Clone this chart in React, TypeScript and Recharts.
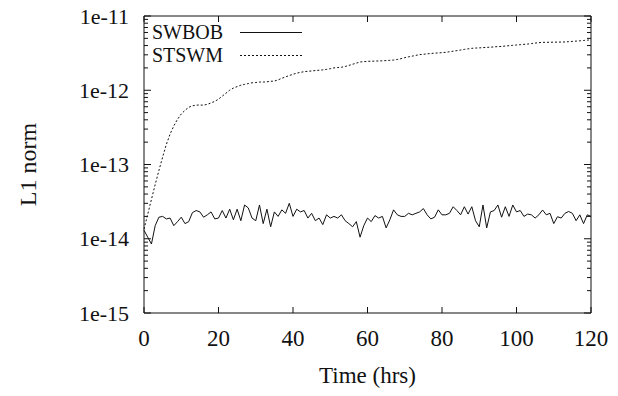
import React from 'react'
import { LineChart, Line, XAxis, YAxis } from 'recharts'

// L1 norm, sampled once per hour (t = 0 .. 120)
const swbob = [
  1.3, 1.05, 0.85, 1.5, 1.95, 2.0, 1.85, 1.9, 1.5, 1.7,
  1.95, 1.6, 1.7, 2.25, 2.4, 2.3, 1.95, 2.1, 2.3, 1.85,
  1.9, 2.4, 1.9, 2.5, 1.8, 2.5, 1.75, 2.85, 2.6, 1.9,
  1.75, 2.85, 1.6, 2.5, 1.45, 2.3, 2.0, 2.45, 2.2, 3.0,
  2.0, 2.5, 2.3, 2.4, 1.9, 2.2, 1.75, 1.9, 1.55, 2.1,
  1.9, 2.0, 1.9, 2.1, 1.75, 1.6, 1.45, 1.7, 1.05, 1.5,
  1.9, 1.7, 2.05, 1.9, 2.0, 1.4, 1.8, 2.45, 2.1, 2.0,
  2.0, 2.2, 2.1, 2.2, 2.3, 2.55, 2.1, 1.85, 1.95, 2.45,
  2.1, 2.1, 2.2, 2.7, 2.4, 2.1, 2.7, 2.15, 2.7, 1.75,
  1.45, 2.85, 1.4, 2.3, 2.4, 2.85, 1.95, 2.7, 2.0, 2.85,
  2.3, 2.4, 2.0, 2.15, 2.1, 1.9, 2.1, 2.44, 2.1, 2.2,
  1.6, 1.98, 1.9, 2.2, 2.33, 2.2, 1.75, 2.1, 1.6, 2.1,
  2.0,
] // x 1e-14

const stswm = [
  0.0135, 0.0214, 0.0339, 0.0537, 0.083, 0.126, 0.186, 0.257, 0.331, 0.407,
  0.479, 0.537, 0.589, 0.617, 0.631, 0.631, 0.631, 0.646, 0.676, 0.708,
  0.759, 0.832, 0.912, 1.0, 1.07, 1.12, 1.17, 1.2, 1.23, 1.26,
  1.27, 1.29, 1.29, 1.3, 1.32, 1.33, 1.38, 1.45, 1.51, 1.58,
  1.64, 1.7, 1.74, 1.78, 1.8, 1.82, 1.84, 1.86, 1.88, 1.91,
  1.95, 2.0, 2.02, 2.04, 2.09, 2.16, 2.24, 2.32, 2.4, 2.43,
  2.45, 2.46, 2.47, 2.48, 2.49, 2.51, 2.53, 2.55, 2.6, 2.66,
  2.75, 2.82, 2.88, 2.95, 3.02, 3.05, 3.09, 3.13, 3.16, 3.18,
  3.21, 3.24, 3.3, 3.36, 3.42, 3.48, 3.55, 3.61, 3.67, 3.7,
  3.72, 3.75, 3.78, 3.8, 3.84, 3.87, 3.89, 3.94, 3.98, 4.03,
  4.07, 4.11, 4.15, 4.19, 4.25, 4.32, 4.37, 4.42, 4.42, 4.43,
  4.44, 4.45, 4.46, 4.47, 4.51, 4.55, 4.59, 4.63, 4.68, 4.73,
  4.79,
] // x 1e-12

const xTicks = [0, 20, 40, 60, 80, 100, 120]
const yMajor = [1e-15, 1e-14, 1e-13, 1e-12, 1e-11]
const yLabels = ['1e-15', '1e-14', '1e-13', '1e-12', '1e-11']

const series = [
  { key: 'swbob', name: 'SWBOB', dash: undefined },
  { key: 'stswm', name: 'STSWM', dash: '2 2' },
]

const data = swbob.map((v, i) => ({ t: i, swbob: v * 1e-14, stswm: stswm[i] * 1e-12 }))

// log minor ticks 2..9 in each decade
const yTicks: number[] = []
yMajor.forEach((m, i) => {
  yTicks.push(m)
  if (i < yMajor.length - 1) for (let k = 2; k <= 9; k++) yTicks.push(k * m)
})

const ink = '#111'
const font = '"Liberation Serif", "Times New Roman", serif'

const majorIndex = (v: number) => yMajor.findIndex((m) => Math.abs(v / m - 1) < 1e-6)

const LeftTick = ({ x, y, payload }: any) => {
  const idx = majorIndex(payload.value)
  const major = idx >= 0
  return (
    <g>
      <line x1={x} x2={x + (major ? 7 : 4)} y1={y} y2={y} stroke={ink} strokeWidth={1} />
      {major && (
        <text x={x - 15} y={y} dy="0.35em" textAnchor="end" fontFamily={font} fontSize={22} fill={ink}>
          {yLabels[idx]}
        </text>
      )}
    </g>
  )
}

const RightTick = ({ x, y, payload }: any) => {
  const major = majorIndex(payload.value) >= 0
  return <line x1={x} x2={x - (major ? 7 : 4)} y1={y} y2={y} stroke={ink} strokeWidth={1} />
}

const BottomTick = ({ x, y, payload }: any) => (
  <g>
    <line x1={x} x2={x} y1={y} y2={y - 6} stroke={ink} strokeWidth={1} />
    <text x={x} y={y + 33} textAnchor="middle" fontFamily={font} fontSize={23} fill={ink}>
      {payload.value}
    </text>
  </g>
)

const TopTick = ({ x, y }: any) => <line x1={x} x2={x} y1={y} y2={y + 6} stroke={ink} strokeWidth={1} />

function Key() {
  return (
    <div style={{ position: 'absolute', left: 144, top: 21, fontFamily: font, fontSize: 20, color: ink, lineHeight: '23px' }}>
      {series.map((s) => (
        <div key={s.key} style={{ display: 'flex', alignItems: 'center', height: 23 }}>
          <span style={{ display: 'inline-block', width: 79, height: 23, textAlign: 'right' }}>{s.name}</span>
          <svg width={80} height={23}>
            <line x1={17} x2={79} y1={11.5} y2={11.5} stroke={ink} strokeWidth={1} strokeDasharray={s.dash} />
          </svg>
        </div>
      ))}
    </div>
  )
}

export default function App() {
  return (
    <div style={{ position: 'absolute', left: 0, top: 0, width: 618, height: 396, background: '#fff' }}>
      <LineChart width={618} height={396} data={data} margin={{ top: 11, right: 17, left: 0, bottom: 0 }}>
        <XAxis
          xAxisId="b"
          dataKey="t"
          type="number"
          domain={[0, 120]}
          ticks={xTicks}
          interval={0}
          height={83}
          tickSize={0}
          tickMargin={0}
          tick={<BottomTick />}
          axisLine={{ stroke: ink }}
          label={{ value: 'Time (hrs)', position: 'insideBottom', offset: 13, fontFamily: font, fontSize: 23, fill: ink }}
        />
        <XAxis
          xAxisId="top"
          orientation="top"
          type="number"
          domain={[0, 120]}
          ticks={xTicks}
          interval={0}
          height={5}
          tickSize={0}
          tickMargin={0}
          tick={<TopTick />}
          axisLine={{ stroke: ink }}
        />
        <YAxis
          yAxisId="l"
          type="number"
          scale="log"
          domain={[1e-15, 1e-11]}
          allowDataOverflow
          ticks={yTicks}
          interval={0}
          width={144}
          tickSize={0}
          tickMargin={0}
          tick={<LeftTick />}
          axisLine={{ stroke: ink }}
          label={{ value: 'L1 norm', angle: -90, position: 'insideLeft', offset: 27, fontFamily: font, fontSize: 24, fill: ink, style: { textAnchor: 'middle' } }}
        />
        <YAxis
          yAxisId="r"
          orientation="right"
          type="number"
          scale="log"
          domain={[1e-15, 1e-11]}
          allowDataOverflow
          ticks={yTicks}
          interval={0}
          width={10}
          tickSize={0}
          tickMargin={0}
          tick={<RightTick />}
          axisLine={{ stroke: ink }}
        />
        {series.map((s) => (
          <Line
            key={s.key}
            xAxisId="b"
            yAxisId="l"
            dataKey={s.key}
            name={s.name}
            type="linear"
            stroke={ink}
            strokeWidth={1}
            strokeDasharray={s.dash}
            dot={false}
            activeDot={false}
            isAnimationActive={false}
          />
        ))}
      </LineChart>
      <Key />
    </div>
  )
}
